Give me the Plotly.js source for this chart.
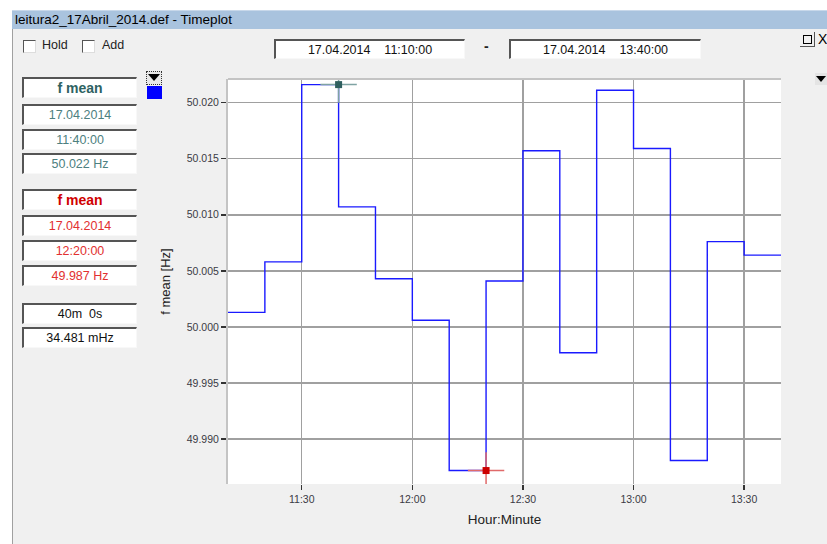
<!DOCTYPE html>
<html>
<head>
<meta charset="utf-8">
<script src="https://cdn.plot.ly/plotly-3.0.1.min.js"></script>
<style>
  html, body { margin:0; padding:0; background:#ffffff; }
  #wrap { position:relative; width:827px; height:544px; overflow:hidden; font-family:"Liberation Sans", Arial, sans-serif; }
  .abs { position:absolute; }
  #body { left:12px; top:28px; width:815px; height:516px; background:#f0f0f0; border-left:1px solid #a0a0a0; }
  #titlebar { left:12px; top:10px; width:815px; height:18px; background:#a9c3de; border-top:1px solid #c8d8ea; font-size:13.5px; color:#000; line-height:18px; }
  #titlebar span { padding-left:3px; }
  #chart { left:0; top:0; width:827px; height:544px; z-index:1; }
  .ui { z-index:2; }
  .chk { width:11px; height:11px; background:#fff; border-top:1px solid #555; border-left:1px solid #555; border-bottom:1px solid #ddd; border-right:1px solid #ddd; }
  .lbl { font-size:12.5px; color:#222; }
  .box { background:#fff; border-top:2px solid #555; border-left:2px solid #555; border-bottom:1px solid #f8f8f8; border-right:1px solid #f8f8f8; box-sizing:border-box; text-align:center; font-size:12.5px; white-space:pre; }
</style>
</head>
<body>
<div id="wrap">
  <div id="body" class="abs"></div>
  <div id="titlebar" class="abs"><span>leitura2_17Abril_2014.def - Timeplot</span></div>
  <div id="chart" class="abs"></div>
</div>
<script>
// ---- data ----
const dayPrefix = '2014-04-17 ';
const intervalStarts = ['11:10','11:20','11:30','11:40','11:50','12:00','12:10','12:20','12:30','12:40','12:50','13:00','13:10','13:20','13:30'];
const intervalEnd = '13:40';
const fMean = [50.0013, 50.0058, 50.0216, 50.0107, 50.0043, 50.0006, 49.9872, 50.0041, 50.0157, 49.9977, 50.0211, 50.0159, 49.9881, 50.0076, 50.0064];
const yTicks = [49.990, 49.995, 50.000, 50.005, 50.010, 50.015, 50.020];
const cursorA = {time:'11:40', index:2};
const cursorB = {time:'12:20', index:6};
const readA = ['f mean', '17.04.2014', '11:40:00', '50.022 Hz'];
const readB = ['f mean', '17.04.2014', '12:20:00', '49.987 Hz'];
const readDiff = ['40m  0s', '34.481 mHz'];
const rangeLabels = ['17.04.2014    11:10:00', '17.04.2014    13:40:00'];

// ---- build step line ----
const xs = intervalStarts.concat([intervalEnd]).map(t => dayPrefix + t + ':00');
const ys = fMean.concat([fMean[fMean.length-1]]);

const traces = [
  {x: xs, y: ys, type:'scatter', mode:'lines', line:{shape:'hv', color:'#1a1aff', width:1.4}, hoverinfo:'skip'},
  {x:[dayPrefix+cursorA.time+':00'], y:[fMean[cursorA.index]], type:'scatter', mode:'markers',
   marker:{symbol:'cross-thin-open', size:26, color:'#7fa3a3', line:{color:'#7fa3a3', width:1.5}}},
  {x:[dayPrefix+cursorA.time+':00'], y:[fMean[cursorA.index]], type:'scatter', mode:'markers',
   marker:{symbol:'square', size:7, color:'#2f5f5f'}},
  {x:[dayPrefix+cursorB.time+':00'], y:[fMean[cursorB.index]], type:'scatter', mode:'markers',
   marker:{symbol:'cross-thin-open', size:26, color:'#e06a6a', line:{color:'#e06a6a', width:1.5}}},
  {x:[dayPrefix+cursorB.time+':00'], y:[fMean[cursorB.index]], type:'scatter', mode:'markers',
   marker:{symbol:'square', size:7, color:'#cc0000'}}
];

const tickFont = {family:'"Liberation Sans", Arial, sans-serif', size:10.5, color:'#3a3a44'};
const layout = {
  width:827, height:544,
  margin:{l:228, r:46, t:79, b:60, pad:0},
  paper_bgcolor:'rgba(0,0,0,0)', plot_bgcolor:'#ffffff',
  showlegend:false,
  xaxis:{
    type:'date', range:[dayPrefix+'11:10:00', dayPrefix+intervalEnd+':00'],
    tick0:dayPrefix+'11:30:00', dtick:1800000, tickformat:'%H:%M',
    showgrid:true, gridcolor:'#a0a0a0', gridwidth:1.5,
    ticks:'outside', ticklen:5, tickwidth:1.5, tickcolor:'#333',
    tickfont:tickFont, zeroline:false, showline:false,
    title:{text:'Hour:Minute', font:{family:'"Liberation Sans", Arial, sans-serif', size:13.5, color:'#222'}, standoff:10}
  },
  yaxis:{
    range:[49.986, 50.0221], tickvals:yTicks, tickformat:'.3f',
    showgrid:true, gridcolor:'#a0a0a0', gridwidth:1.5,
    ticks:'outside', ticklen:5, tickwidth:1.5, tickcolor:'#333',
    tickfont:tickFont, zeroline:false,
    showline:true, linecolor:'#c4c4c4', linewidth:2,
    title:{text:'f mean [Hz]', font:{family:'"Liberation Sans", Arial, sans-serif', size:13, color:'#222'}, standoff:13}
  },
  shapes:[
    {type:'line', xref:'paper', yref:'paper', x0:0, x1:1, y0:1, y1:1, line:{color:'#c4c4c4', width:2}}
  ]
};
Plotly.newPlot('chart', traces, layout, {displayModeBar:false, staticPlot:true});

// ---- window UI ----
const ui = document.getElementById('wrap');
function el(cls, style, html){
  const d = document.createElement('div');
  d.className = 'abs ui ' + cls;
  Object.assign(d.style, style);
  if (html !== undefined) d.textContent = html;
  ui.appendChild(d);
  return d;
}
// checkboxes
el('chk', {left:'23px', top:'40px'});
el('lbl', {left:'42px', top:'38px'}, 'Hold');
el('chk', {left:'82px', top:'40px'});
el('lbl', {left:'102px', top:'38px'}, 'Add');
// range boxes
el('box', {left:'274px', top:'39px', width:'191px', height:'20px', lineHeight:'18px', color:'#111', fontSize:'12.5px'}, rangeLabels[0]);
el('lbl', {left:'484px', top:'38px', fontSize:'14px', fontWeight:'bold'}, '-');
el('box', {left:'509px', top:'39px', width:'192px', height:'20px', lineHeight:'18px', color:'#111', fontSize:'12.5px'}, rangeLabels[1]);
// top right controls
el('', {left:'800px', top:'32px', width:'15px', height:'15px', background:'#f0f0f0', borderRight:'1px solid #555', borderBottom:'1px solid #555', boxSizing:'border-box'});
el('', {left:'803px', top:'35px', width:'9px', height:'9px', border:'1px solid #000', boxSizing:'border-box'});
el('lbl', {left:'818px', top:'31px', fontSize:'14px', color:'#000'}, 'X');
// dropdown on right
el('', {left:'815px', top:'73px', width:'12px', height:'12px', background:'#e4e4e4'});
el('', {left:'816px', top:'76px', width:0, height:0, borderLeft:'5px solid transparent', borderRight:'5px solid transparent', borderTop:'6px solid #000'});
// dropdown + color swatch
el('', {left:'146px', top:'71px', width:'16px', height:'14px', background:'#e8e8e8', border:'1px dotted #333', boxSizing:'border-box'});
el('', {left:'148px', top:'74px', width:0, height:0, borderLeft:'6px solid transparent', borderRight:'6px solid transparent', borderTop:'7px solid #000'});
el('', {left:'147px', top:'86px', width:'15px', height:'13px', background:'#0000ff'});
// readouts
const boxW = '115px', boxH = '21px';
const tops1 = [77, 104, 129, 153];
readA.forEach((t,i)=>{
  el('box', {left:'22px', top:tops1[i]+'px', width:boxW, height:boxH, lineHeight:'19px',
    color: i===0 ? '#2e6262' : '#4d8080', fontWeight: i===0?'bold':'normal', fontSize: i===0?'14px':'12.5px'}, t);
});
const tops2 = [189, 215, 240, 265];
readB.forEach((t,i)=>{
  el('box', {left:'22px', top:tops2[i]+'px', width:boxW, height:boxH, lineHeight:'19px',
    color: i===0 ? '#d00000' : '#e23030', fontWeight: i===0?'bold':'normal', fontSize: i===0?'14px':'12.5px'}, t);
});
const tops3 = [303, 327];
readDiff.forEach((t,i)=>{
  el('box', {left:'22px', top:tops3[i]+'px', width:boxW, height:boxH, lineHeight:'19px', color:'#111'}, t);
});
</script>
</body>
</html>
